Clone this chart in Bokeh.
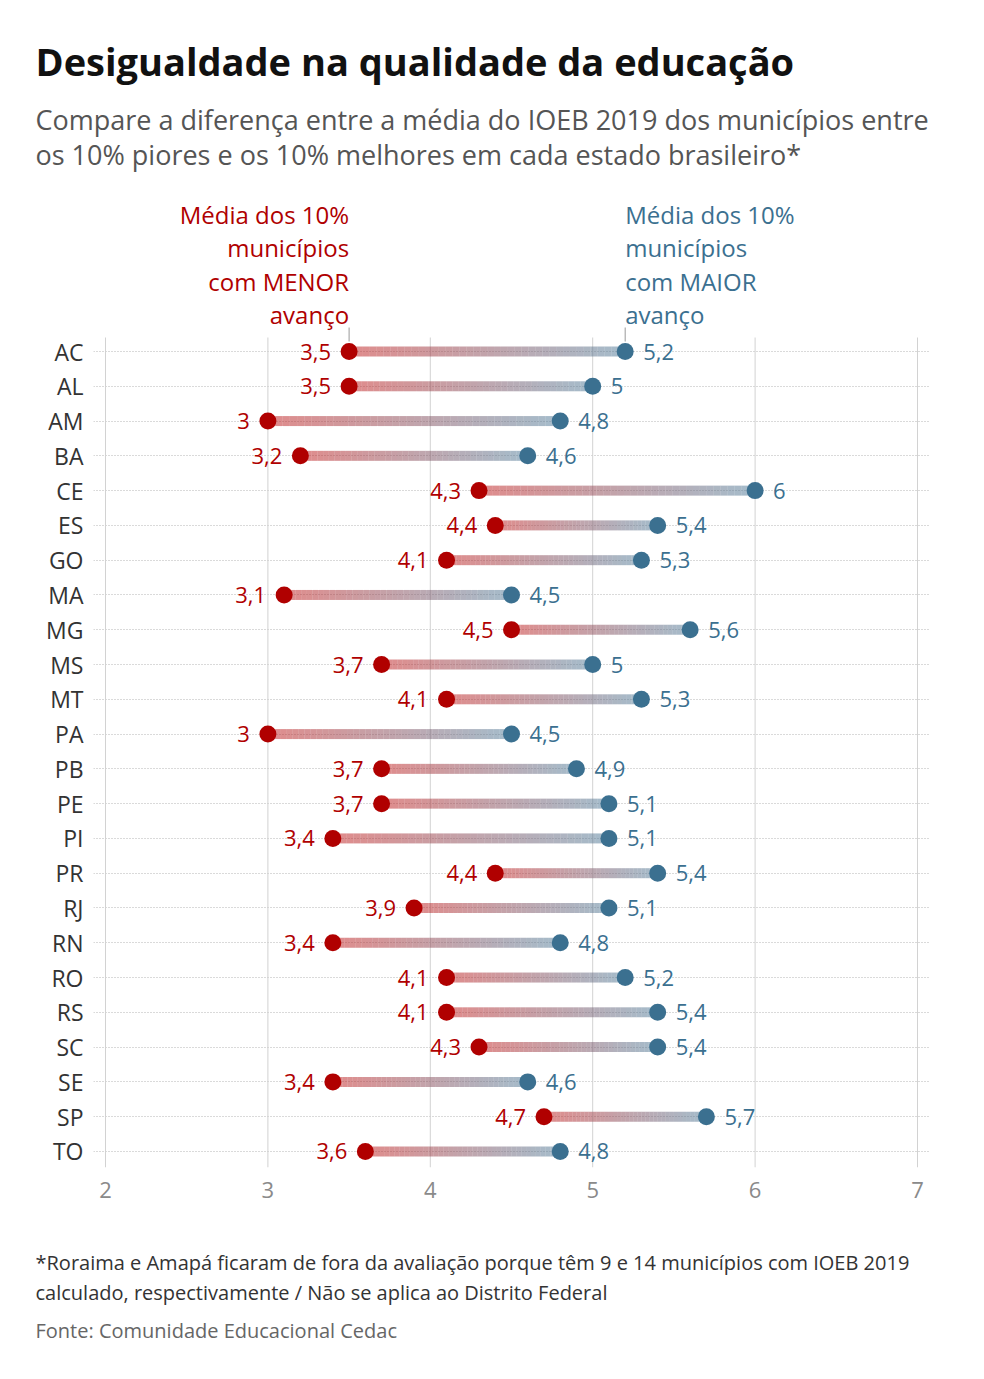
from bokeh.plotting import figure
from bokeh.models import Range1d, FixedTicker, ColumnDataSource
from bokeh.layouts import column
from bokeh.core.properties import value
from bokeh.embed import file_html
from bokeh.resources import INLINE

states = ["AC", "AL", "AM", "BA", "CE", "ES", "GO", "MA", "MG", "MS", "MT", "PA",
          "PB", "PE", "PI", "PR", "RJ", "RN", "RO", "RS", "SC", "SE", "SP", "TO"]
low = [3.5, 3.5, 3.0, 3.2, 4.3, 4.4, 4.1, 3.1, 4.5, 3.7, 4.1, 3.0,
       3.7, 3.7, 3.4, 4.4, 3.9, 3.4, 4.1, 4.1, 4.3, 3.4, 4.7, 3.6]
high = [5.2, 5.0, 4.8, 4.6, 6.0, 5.4, 5.3, 4.5, 5.6, 5.0, 5.3, 4.5,
        4.9, 5.1, 5.1, 5.4, 5.1, 4.8, 5.2, 5.4, 5.4, 4.6, 5.7, 4.8]
x_ticks = [2, 3, 4, 5, 6, 7]

title = "Desigualdade na qualidade da educação"
subtitle = ["Compare a diferença entre a média do IOEB 2019 dos municípios entre",
            "os 10% piores e os 10% melhores em cada estado brasileiro*"]
ann_low = ["Média dos 10%", "municípios", "com MENOR", "avanço"]
ann_high = ["Média dos 10%", "municípios", "com MAIOR", "avanço"]
footer = ["*Roraima e Amapá ficaram de fora da avaliação porque têm 9 e 14 municípios com IOEB 2019",
          "calculado, respectivamente / Não se aplica ao Distrito Federal"]
source_txt = "Fonte: Comunidade Educacional Cedac"

FONT = "Open Sans"
RED = "#b00000"
BLUE = "#3b7090"
W, H = 984, 1379
TOP, MAIN_BOTTOM = 195, 1230

# pixel layout helpers (main frame: x 93..930, y 195..1167)
PX_X2, PX_PER_X = 105.0, 162.4
PX_Y0, PX_PER_ROW = 351.0, 34.78


def dx(px):
    return 2 + (px - PX_X2) / PX_PER_X


def dy(py):
    return (py - PX_Y0) / PX_PER_ROW


def blank(height, y_top, y_bottom):
    f = figure(width=W, height=height, output_backend="svg", toolbar_location=None,
               title=None, x_axis_type=None, y_axis_type=None,
               x_range=Range1d(0, W), y_range=Range1d(y_bottom, y_top),
               min_border=0, min_border_left=0, min_border_right=0,
               min_border_top=0, min_border_bottom=0, frame_align=False)
    f.outline_line_color = None
    f.xgrid.visible = False
    f.ygrid.visible = False
    return f


# ---------------- header
hdr = blank(TOP, 0, TOP)
hdr.text(x=[35], y=[60], text=[title], text_align="left", text_baseline="middle",
         text_font=value(FONT), text_font_size="38px", text_font_style="bold",
         text_color="#111111")
hdr.text(x=[35, 35], y=[119, 154], text=subtitle, text_align="left", text_baseline="middle",
         text_font=value(FONT), text_font_size="27px", text_color="#555555")

# ---------------- main chart
p = figure(width=W, height=MAIN_BOTTOM - TOP, output_backend="svg", toolbar_location=None,
           title=None, frame_align=False,
           x_range=Range1d(dx(93), dx(930)), y_range=Range1d(dy(1167), dy(TOP)),
           min_border_left=93, min_border_right=W - 930,
           min_border_top=0, min_border_bottom=MAIN_BOTTOM - 1167)
p.outline_line_color = None

p.xaxis.ticker = FixedTicker(ticks=x_ticks)
p.xaxis.axis_line_color = None
p.xaxis.major_tick_line_color = None
p.xaxis.minor_tick_line_color = None
p.xaxis.major_label_text_font = FONT
p.xaxis.major_label_text_font_size = "22px"
p.xaxis.major_label_text_color = "#8a8a8a"
p.xaxis.major_label_standoff = 8

p.yaxis.ticker = FixedTicker(ticks=list(range(len(states))))
p.yaxis.major_label_overrides = {i: s for i, s in enumerate(states)}
p.yaxis.axis_line_color = None
p.yaxis.major_tick_line_color = None
p.yaxis.minor_tick_line_color = None
p.yaxis.major_label_text_font = FONT
p.yaxis.major_label_text_font_size = "23px"
p.yaxis.major_label_text_color = "#333333"
p.yaxis.major_label_standoff = 4

p.xgrid.grid_line_color = None
p.ygrid.grid_line_color = "#b5b5b5"
p.ygrid.grid_line_dash = "1 2"
p.ygrid.grid_line_width = 1

n = len(states)
p.segment(x0=x_ticks, x1=x_ticks, y0=[dy(337)] * len(x_ticks), y1=[dy(1167)] * len(x_ticks),
          line_color="#d2d2d2", line_width=1)


def hex2rgb(h):
    return tuple(int(h[i:i + 2], 16) for i in (1, 3, 5))


r1, r2 = hex2rgb("#c01818"), hex2rgb("#4a7a98")
N = 40
sx0, sx1, sy, sc = [], [], [], []
for i in range(n):
    for k in range(N):
        sx0.append(low[i] + (high[i] - low[i]) * k / N)
        sx1.append(low[i] + (high[i] - low[i]) * (k + 1) / N)
        sy.append(i)
        tm = (k + 0.5) / N
        c = tuple(int(round(r1[j] + (r2[j] - r1[j]) * tm)) for j in range(3))
        sc.append("#%02x%02x%02x" % c)
p.segment(x0=sx0, x1=sx1, y0=sy, y1=sy, line_color=sc, line_width=10,
          line_alpha=0.5, line_cap="butt")

src = ColumnDataSource(dict(y=list(range(n)), low=low, high=high,
                            low_lbl=[("%g" % v).replace(".", ",") for v in low],
                            high_lbl=[("%g" % v).replace(".", ",") for v in high]))
p.scatter(x="low", y="y", source=src, size=17, fill_color=RED, line_color=None)
p.scatter(x="high", y="y", source=src, size=17, fill_color=BLUE, line_color=None)

p.text(x="low", y="y", text="low_lbl", source=src, x_offset=-18, text_align="right",
       text_baseline="middle", text_font=value(FONT), text_font_size="22px", text_color=RED)
p.text(x="high", y="y", text="high_lbl", source=src, x_offset=18, text_align="left",
       text_baseline="middle", text_font=value(FONT), text_font_size="22px", text_color=BLUE)

ann_y = [dy(214), dy(247), dy(281), dy(314)]
p.text(x=[low[0]] * 4, y=ann_y, text=ann_low, text_align="right", text_baseline="middle",
       text_font=value(FONT), text_font_size="24px", text_color=RED)
p.text(x=[high[0]] * 4, y=ann_y, text=ann_high, text_align="left", text_baseline="middle",
       text_font=value(FONT), text_font_size="24px", text_color=BLUE)
p.segment(x0=[low[0], high[0]], x1=[low[0], high[0]], y0=[dy(327)] * 2, y1=[dy(341)] * 2,
          line_color="#999999", line_width=1)

# ---------------- footer
ftr = blank(H - MAIN_BOTTOM, MAIN_BOTTOM, H)
ftr.text(x=[35, 35], y=[1262, 1292], text=footer, text_align="left", text_baseline="middle",
         text_font=value(FONT), text_font_size="20px", text_color="#333333")
ftr.text(x=[35], y=[1330], text=[source_txt], text_align="left", text_baseline="middle",
         text_font=value(FONT), text_font_size="20px", text_color="#666666")

layout = column(hdr, p, ftr, spacing=0)
open("out.html", "w").write(file_html(layout, INLINE))
